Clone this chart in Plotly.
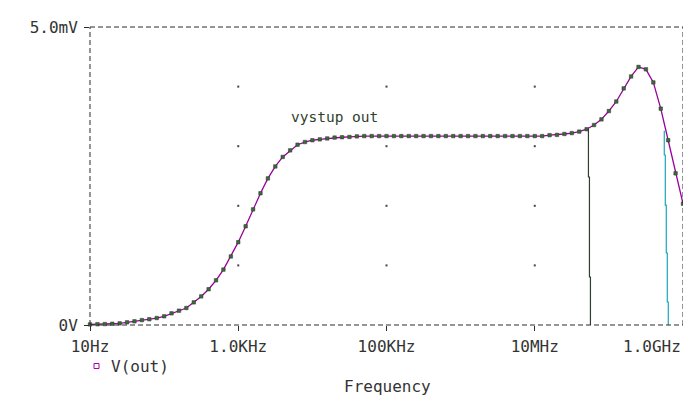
import plotly.graph_objects as go

# ---------------- data ----------------
points_per_decade = 10
start_exp = 1          # 10 Hz
n_points = 81          # 10 Hz .. 1 GHz
freq_hz = [10 ** (start_exp + i / points_per_decade) for i in range(n_points)]

v_out_mV = [
    0.010, 0.013, 0.016, 0.021, 0.028, 0.045, 0.062, 0.082, 0.097, 0.117,
    0.146, 0.196, 0.240, 0.285, 0.380, 0.480, 0.600, 0.750, 0.930, 1.150,
    1.390, 1.656, 1.940, 2.210, 2.460, 2.660, 2.820, 2.930, 3.025, 3.070,
    3.100, 3.115, 3.130, 3.145, 3.150, 3.155, 3.165, 3.170, 3.170, 3.170,
    3.170, 3.170, 3.170, 3.170, 3.170, 3.170, 3.170, 3.170, 3.170, 3.170,
    3.170, 3.170, 3.170, 3.170, 3.170, 3.170, 3.170, 3.170, 3.170, 3.170,
    3.170, 3.170, 3.185, 3.190, 3.205, 3.220, 3.245, 3.285, 3.355, 3.450,
    3.590, 3.750, 3.970, 4.170, 4.330, 4.290, 4.070, 3.630, 3.100, 2.545,
    2.035,
]

# vertical cursor-like traces seen in the picture
dark_line_freq = [5.30e7, 5.30e7, 5.47e7, 5.47e7, 5.64e7, 5.64e7]
dark_line_mV = [3.289, 2.483, 2.483, 0.805, 0.805, 0.0]
cyan_line_freq = [5.59e8, 5.59e8, 5.77e8, 5.77e8, 5.95e8, 5.95e8, 6.14e8, 6.14e8, 6.33e8, 6.33e8]
cyan_line_mV = [3.26, 2.852, 2.852, 2.013, 2.013, 1.208, 1.208, 0.386, 0.386, 0.0]

x_tick_vals = [10, 1e3, 1e5, 1e7, 1e9]
x_tick_labels = ["10Hz", "1.0KHz", "100KHz", "10MHz", "1.0GHz"]
y_tick_vals = [0, 5]
y_tick_labels = ["0V", "5.0mV"]
y_grid_vals = [1, 2, 3, 4]
trace_label = "vystup out"
legend_label = "V(out)"
x_title = "Frequency"

# ---------------- styling ----------------
OFF = 8                       # page body margin of the html page
W, H = 691 - OFF, 396 - OFF
L, R, T, B = 90 - OFF, 8, 27 - OFF, 71
PW, PH = W - L - R, H - T - B
FONT = "DejaVu Sans Mono"
TXT = "#333333"
FRAME = "#2a2a2a"
CURVE = "#990099"


def px(x):  # page pixel -> paper
    return (x - OFF - L) / PW


def py(y):
    return (H - B - (y - OFF)) / PH


fig = go.Figure()

# grid dots
gx, gy = [], []
for xv in x_tick_vals[1:-1]:
    for yv in y_grid_vals:
        gx.append(xv)
        gy.append(yv)
fig.add_trace(go.Scatter(x=gx, y=gy, mode="markers",
                         marker=dict(size=2, color="#444444", symbol="square"),
                         hoverinfo="skip", showlegend=False))

fig.add_trace(go.Scatter(x=dark_line_freq, y=dark_line_mV, mode="lines",
                         line=dict(color="#2f3f2f", width=1.2),
                         hoverinfo="skip", showlegend=False))
fig.add_trace(go.Scatter(x=cyan_line_freq, y=cyan_line_mV, mode="lines",
                         line=dict(color="#1aa8b8", width=1.2),
                         hoverinfo="skip", showlegend=False))

fig.add_trace(go.Scatter(x=freq_hz, y=v_out_mV, mode="lines+markers",
                         line=dict(color=CURVE, width=1.3),
                         marker=dict(symbol="square", size=3.5, color="#3a6a3a",
                                     line=dict(color="#333333", width=0.5)),
                         name=legend_label, showlegend=False, cliponaxis=False))

# dashed frame
dash = "5px,3px"
for (x0, y0, x1, y1) in [(0, 0, 1, 0), (0, 1, 1, 1), (0, 0, 0, 1), (1, 0, 1, 1)]:
    fig.add_shape(type="line", xref="paper", yref="paper", x0=x0, y0=y0, x1=x1, y1=y1,
                  line=dict(color=FRAME, width=1, dash=dash))

# legend marker
fig.add_shape(type="rect", xref="paper", yref="paper",
              x0=px(94), x1=px(99), y0=py(363.5), y1=py(368.5),
              line=dict(color="#b000b0", width=1), fillcolor="rgba(0,0,0,0)")

annotations = [
    dict(text=legend_label, x=px(109), y=py(366), xref="paper", yref="paper",
         xanchor="left", yanchor="middle", showarrow=False,
         font=dict(family=FONT, size=16, color=TXT)),
    dict(text=x_title, x=px(387), y=py(386), xref="paper", yref="paper",
         xanchor="center", yanchor="middle", showarrow=False,
         font=dict(family=FONT, size=16, color=TXT)),
    dict(text=trace_label, x=px(289), y=py(117), xref="paper", yref="paper",
         xanchor="left", yanchor="middle", showarrow=False,
         font=dict(family=FONT, size=14.5, color="#2f3f2f")),
    dict(text=x_tick_labels[-1], x=px(683), y=py(346), xref="paper", yref="paper",
         xanchor="right", yanchor="middle", showarrow=False,
         font=dict(family=FONT, size=16, color=TXT)),
]

fig.update_layout(
    width=W, height=H,
    margin=dict(l=L, r=R, t=T, b=B, pad=0),
    paper_bgcolor="white", plot_bgcolor="white",
    showlegend=False,
    annotations=annotations,
    font=dict(family=FONT, size=16, color=TXT),
)
fig.update_xaxes(type="log", range=[1, 9], showgrid=False, zeroline=False,
                 showline=False, tickvals=x_tick_vals,
                 ticktext=x_tick_labels[:-1] + [""],
                 ticks="outside", ticklen=5, tickcolor=FRAME, tickwidth=1,
                 ticklabelstandoff=2,
                 tickfont=dict(family=FONT, size=16, color=TXT), automargin=False)
fig.update_yaxes(range=[0, 5], showgrid=False, zeroline=False, showline=False,
                 tickvals=y_tick_vals, ticktext=y_tick_labels,
                 ticks="outside", ticklen=5, tickcolor=FRAME, tickwidth=1,
                 ticklabelstandoff=3,
                 tickfont=dict(family=FONT, size=16, color=TXT), automargin=False)

fig.write_html("out.html")
